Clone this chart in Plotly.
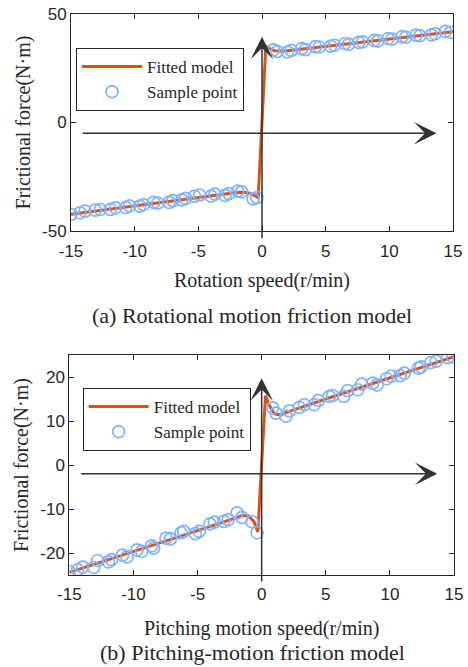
import plotly.graph_objects as go

# ---------------- data ----------------
# (a) rotational motion
rot_sample_x = [-15.0, -14.3, -13.9, -13.1, -12.7, -11.9, -11.5, -10.7, -10.4, -9.6, -9.3,
                -8.5, -8.2, -7.3, -7.0, -6.3, -6.0, -5.3, -4.9, -4.0, -3.7, -2.9, -2.6,
                -1.9, -1.6, -0.7, -0.4,
                0.9, 1.2, 2.0, 2.3, 3.1, 3.4, 4.2, 4.5, 5.4, 5.7, 6.5, 6.8, 7.6, 7.9,
                8.8, 9.1, 9.9, 10.2, 11.0, 11.3, 12.1, 12.4, 13.3, 13.6, 14.4, 14.8]
rot_sample_y = [-42.3, -41.6, -40.8, -40.4, -40.1, -40.0, -39.3, -39.1, -38.4, -38.5, -37.8,
                -36.8, -37.2, -36.8, -36.0, -35.7, -35.0, -33.9, -33.4, -33.9, -33.0, -33.6, -32.8,
                -31.6, -32.0, -35.2, -34.6,
                33.5, 32.8, 32.5, 33.2, 34.0, 33.6, 35.0, 34.8, 35.2, 35.6, 36.4, 36.0, 36.9, 37.2,
                37.8, 37.6, 38.7, 38.4, 39.6, 39.3, 40.3, 40.0, 40.4, 40.9, 42.0, 41.5]
rot_fit_x = [-15, -10, -5, -2, -1.5, -1.0, -0.6, -0.3, 0.3, 0.6, 1.0, 1.5, 2, 5, 10, 15]
rot_fit_y = [-42.3, -38.4, -34.5, -32.3, -32.2, -32.5, -33.6, -34.6,
             35.2, 34.0, 33.1, 32.9, 33.1, 35.1, 38.5, 41.8]

# (b) pitching motion
pit_sample_x = [-15.0, -14.35, -13.96, -13.1, -12.8, -11.95, -11.7, -10.85, -10.5, -9.72, -9.36,
                -8.58, -8.42, -7.46, -7.12, -6.29, -6.08, -5.17, -4.86, -4.03, -3.69, -2.96, -2.6,
                -1.92, -1.53, -0.75, -0.36,
                0.86, 1.12, 1.9, 2.16, 2.94, 3.33, 4.1, 4.42, 5.28, 5.54, 6.4, 6.71, 7.49, 7.8,
                8.66, 9.0, 9.75, 10.1, 10.8, 11.13, 12.22, 12.43, 13.2, 13.6, 14.5, 14.9]
pit_sample_y = [-24.2, -23.8, -23.2, -23.3, -21.7, -22.0, -21.5, -20.5, -20.9, -19.3, -19.6,
                -18.4, -18.9, -16.6, -16.8, -15.4, -15.1, -15.6, -15.1, -13.4, -13.0, -12.8, -12.4,
                -10.9, -11.9, -12.9, -15.4,
                13.0, 11.8, 11.1, 12.3, 13.1, 13.7, 13.7, 14.7, 15.6, 15.8, 15.6, 16.9, 17.1, 18.4,
                18.6, 18.2, 19.6, 20.2, 20.3, 20.9, 22.0, 22.3, 23.3, 23.6, 24.4, 24.6]
pit_fit_x = [-15, -10, -5, -2, -1.5, -1.0, -0.6, -0.3, 0.3, 0.6, 1.0, 1.5, 2, 5, 10, 15]
pit_fit_y = [-24.4, -19.7, -14.9, -12.0, -11.5, -11.6, -12.9, -15.2,
             15.8, 13.5, 11.6, 11.4, 12.0, 15.0, 19.8, 24.6]

x_ticks = [-15, -10, -5, 0, 5, 10, 15]
x_tick_labels = ['-15', '-10', '-5', '0', '5', '10', '15']
rot_y_ticks = [-50, 0, 50]
rot_y_tick_labels = ['-50', '0', '50']
pit_y_ticks = [-20, -10, 0, 10, 20]
pit_y_tick_labels = ['-20', '-10', '0', '10', '20']

# ---------------- style ----------------
FIT = '#D95319'
SAMPLE = '#7FB2FF'
AXC = '#262626'
SERIF = 'Liberation Serif'
SANS = 'Liberation Sans'
W, H = 468, 667

marker_style = dict(symbol='circle-open', size=12, color=SAMPLE, line=dict(width=1.7))

fig = go.Figure()
fig.add_trace(go.Scatter(x=rot_fit_x, y=rot_fit_y, mode='lines', name='Fitted model',
                         line=dict(color=FIT, width=3), xaxis='x', yaxis='y', legend='legend'))
fig.add_trace(go.Scatter(x=rot_sample_x, y=rot_sample_y, mode='markers', name='Sample point',
                         marker=marker_style, xaxis='x', yaxis='y', legend='legend'))
fig.add_trace(go.Scatter(x=pit_fit_x, y=pit_fit_y, mode='lines', name='Fitted model',
                         line=dict(color=FIT, width=3), xaxis='x2', yaxis='y2', legend='legend2'))
fig.add_trace(go.Scatter(x=pit_sample_x, y=pit_sample_y, mode='markers', name='Sample point',
                         marker=marker_style, xaxis='x2', yaxis='y2', legend='legend2'))

axis_common = dict(showline=True, mirror='ticks', linecolor=AXC, linewidth=1,
                   ticks='inside', ticklen=5, tickcolor=AXC, showgrid=False, zeroline=False,
                   automargin=False,
                   tickfont=dict(family=SANS, size=17, color=AXC),
                   title_font=dict(family=SERIF, size=20, color=AXC))

legend_common = dict(xanchor='left', yanchor='top', bgcolor='white',
                     bordercolor=AXC, borderwidth=1, itemwidth=60,
                     font=dict(family=SERIF, size=17, color=AXC))

fig.update_layout(
    width=W, height=H, margin=dict(l=0, r=0, t=0, b=0),
    paper_bgcolor='white', plot_bgcolor='white',
    xaxis=dict(axis_common, domain=[71 / W, 453 / W], range=[-15, 15],
               tickvals=x_ticks, ticktext=x_tick_labels, ticklabelstandoff=5,
               anchor='y', title=dict(text='Rotation speed(r/min)', standoff=12)),
    yaxis=dict(axis_common, domain=[1 - 231 / H, 1 - 14 / H], range=[-50, 50],
               tickvals=rot_y_ticks, ticktext=rot_y_tick_labels,
               anchor='x', title=dict(text='Frictional force(N·m)', standoff=6)),
    xaxis2=dict(axis_common, domain=[69.3 / W, 454 / W], range=[-15, 15],
                tickvals=x_ticks, ticktext=x_tick_labels, ticklabelstandoff=4,
                anchor='y2', title=dict(text='Pitching motion speed(r/min)', standoff=17)),
    yaxis2=dict(axis_common, domain=[1 - 575 / H, 1 - 355 / H], range=[-25, 25],
                tickvals=pit_y_ticks, ticktext=pit_y_tick_labels,
                anchor='x2', title=dict(text='Frictional force(N·m)', standoff=6)),
    legend=dict(legend_common, x=76 / W, y=1 - 48 / H),
    legend2=dict(legend_common, x=82.7 / W, y=1 - 388 / H),
    showlegend=True,
)

arrow = dict(showarrow=True, arrowhead=3, arrowsize=2.5, arrowwidth=1.5, arrowcolor='#333333',
             text='', standoff=0, startstandoff=0)
fig.add_annotation(arrow, x=13.7, y=-5, ax=-14.2, ay=-5, xref='x', yref='y', axref='x', ayref='y')
fig.add_annotation(arrow, x=0, y=39.5, ax=0, ay=-54, xref='x', yref='y', axref='x', ayref='y')
fig.add_annotation(arrow, x=13.7, y=-2, ax=-14.2, ay=-2, xref='x2', yref='y2', axref='x2', ayref='y2')
fig.add_annotation(arrow, x=0, y=19.7, ax=0, ay=-26.8, xref='x2', yref='y2', axref='x2', ayref='y2')

fig.add_annotation(text='(a) Rotational motion friction model', x=252 / W, y=1 - 316 / H,
                   xref='paper', yref='paper', showarrow=False, xanchor='center', yanchor='middle',
                   font=dict(family=SERIF, size=22, color=AXC))
fig.add_annotation(text='(b) Pitching-motion friction model', x=252 / W, y=1 - 652 / H,
                   xref='paper', yref='paper', showarrow=False, xanchor='center', yanchor='middle',
                   font=dict(family=SERIF, size=22, color=AXC))

fig.write_html('out.html', config={'displayModeBar': False},
               post_script="document.body.style.margin='0';document.body.style.overflow='hidden';")
